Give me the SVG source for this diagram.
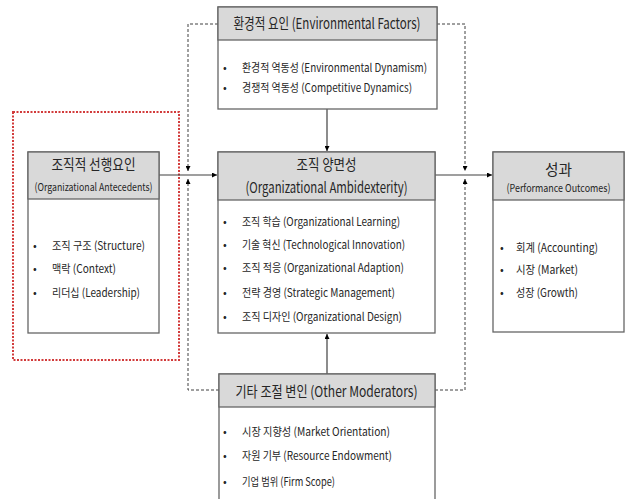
<svg xmlns="http://www.w3.org/2000/svg" width="626" height="499" viewBox="0 0 626 499">
<defs>
<marker id="ah" viewBox="0 0 10 10" refX="10" refY="5" markerWidth="5" markerHeight="5" orient="auto" markerUnits="userSpaceOnUse"><path d="M0,0 L10,5 L0,10 z" fill="#000"/></marker>
</defs>
<style>
.box{fill:#fff;stroke:#666;stroke-width:1.3}
.hdr{fill:#d9d9d9;stroke:#666;stroke-width:1.3}
text{font-family:"Malgun Gothic","Noto Sans CJK KR","Noto Sans",sans-serif;fill:#262626}
.t{font-size:15px;text-anchor:middle}
.s{font-size:11px;text-anchor:middle}
.i{font-size:11.5px}
.b{font-size:11px}
.solid{fill:none;stroke:#404040;stroke-width:1.2}
.dash{fill:none;stroke:#404040;stroke-width:1;stroke-dasharray:3,2}
</style>
<rect x="13" y="112" width="166" height="248" fill="none" stroke="#d23b3b" stroke-width="2" stroke-dasharray="2,1.5"/>
<g id="connectors">
<path class="dash" d="M218,24 H188 V171" marker-end="url(#ah)"/>
<path class="dash" d="M219,390 H188 V179" marker-end="url(#ah)"/>
<path class="dash" d="M437,24 H465 V171" marker-end="url(#ah)"/>
<path class="dash" d="M435,390 H465 V179" marker-end="url(#ah)"/>
<path class="solid" d="M159,175 H217" marker-end="url(#ah)"/>
<path class="solid" d="M435,175 H492" marker-end="url(#ah)"/>
<path class="solid" d="M327,109 V151" marker-end="url(#ah)"/>
<path class="solid" d="M327,374 V334" marker-end="url(#ah)"/>
</g>
<g id="env">
<rect class="box" x="218" y="7" width="219" height="102"/>
<rect class="hdr" x="218" y="7" width="219" height="33"/>
<text class="t" x="327" y="29" textLength="187" lengthAdjust="spacingAndGlyphs">환경적 요인 (Environmental Factors)</text>
<text class="b" x="223" y="72">•</text>
<text class="i" x="242" y="72" textLength="185" lengthAdjust="spacingAndGlyphs">환경적 역동성 (Environmental Dynamism)</text>
<text class="b" x="223" y="92">•</text>
<text class="i" x="242" y="92" textLength="170" lengthAdjust="spacingAndGlyphs">경쟁적 역동성 (Competitive Dynamics)</text>
</g>
<g id="antecedents">
<rect class="box" x="28" y="152" width="131" height="181"/>
<rect class="hdr" x="28" y="152" width="131" height="47"/>
<text class="t" x="93.5" y="170" textLength="84" lengthAdjust="spacingAndGlyphs">조직적 선행요인</text>
<text class="s" x="93.5" y="191" textLength="118" lengthAdjust="spacingAndGlyphs">(Organizational Antecedents)</text>
<text class="b" x="33" y="250">•</text>
<text class="i" x="52" y="250" textLength="93" lengthAdjust="spacingAndGlyphs">조직 구조 (Structure)</text>
<text class="b" x="33" y="273">•</text>
<text class="i" x="52" y="273" textLength="64" lengthAdjust="spacingAndGlyphs">맥락 (Context)</text>
<text class="b" x="33" y="297">•</text>
<text class="i" x="52" y="297" textLength="88" lengthAdjust="spacingAndGlyphs">리더십 (Leadership)</text>
</g>
<g id="ambidexterity">
<rect class="box" x="218" y="152" width="217" height="181"/>
<rect class="hdr" x="218" y="152" width="217" height="48"/>
<text class="t" x="326.5" y="170" textLength="60" lengthAdjust="spacingAndGlyphs">조직 양면성</text>
<text class="t" x="326.5" y="193" textLength="162" lengthAdjust="spacingAndGlyphs">(Organizational Ambidexterity)</text>
<text class="b" x="223" y="226">•</text>
<text class="i" x="242" y="226" textLength="158" lengthAdjust="spacingAndGlyphs">조직 학습 (Organizational Learning)</text>
<text class="b" x="223" y="249">•</text>
<text class="i" x="242" y="249" textLength="163" lengthAdjust="spacingAndGlyphs">기술 혁신 (Technological Innovation)</text>
<text class="b" x="223" y="272">•</text>
<text class="i" x="242" y="272" textLength="162" lengthAdjust="spacingAndGlyphs">조직 적응 (Organizational Adaption)</text>
<text class="b" x="223" y="297">•</text>
<text class="i" x="242" y="297" textLength="153" lengthAdjust="spacingAndGlyphs">전략 경영 (Strategic Management)</text>
<text class="b" x="223" y="321">•</text>
<text class="i" x="242" y="321" textLength="160" lengthAdjust="spacingAndGlyphs">조직 디자인 (Organizational Design)</text>
</g>
<g id="performance">
<rect class="box" x="493" y="152" width="131" height="180"/>
<rect class="hdr" x="493" y="152" width="131" height="48"/>
<text class="t" x="558.5" y="175" textLength="27" lengthAdjust="spacingAndGlyphs">성과</text>
<text class="s" x="558.5" y="192" textLength="104" lengthAdjust="spacingAndGlyphs">(Performance Outcomes)</text>
<text class="b" x="500" y="252">•</text>
<text class="i" x="516" y="252" textLength="82" lengthAdjust="spacingAndGlyphs">회계 (Accounting)</text>
<text class="b" x="500" y="274">•</text>
<text class="i" x="516" y="274" textLength="62" lengthAdjust="spacingAndGlyphs">시장 (Market)</text>
<text class="b" x="500" y="297">•</text>
<text class="i" x="516" y="297" textLength="62" lengthAdjust="spacingAndGlyphs">성장 (Growth)</text>
</g>
<g id="moderators">
<rect class="box" x="219" y="374" width="216" height="135"/>
<rect class="hdr" x="219" y="374" width="216" height="33"/>
<text class="t" x="326.5" y="397" textLength="182" lengthAdjust="spacingAndGlyphs">기타 조절 변인 (Other Moderators)</text>
<text class="b" x="223" y="436">•</text>
<text class="i" x="242" y="436" textLength="148" lengthAdjust="spacingAndGlyphs">시장 지향성 (Market Orientation)</text>
<text class="b" x="223" y="460">•</text>
<text class="i" x="242" y="460" textLength="150" lengthAdjust="spacingAndGlyphs">자원 기부 (Resource Endowment)</text>
<text class="b" x="223" y="486">•</text>
<text class="i" x="242" y="486" textLength="93" lengthAdjust="spacingAndGlyphs">기업 범위 (Firm Scope)</text>
</g>
</svg>
